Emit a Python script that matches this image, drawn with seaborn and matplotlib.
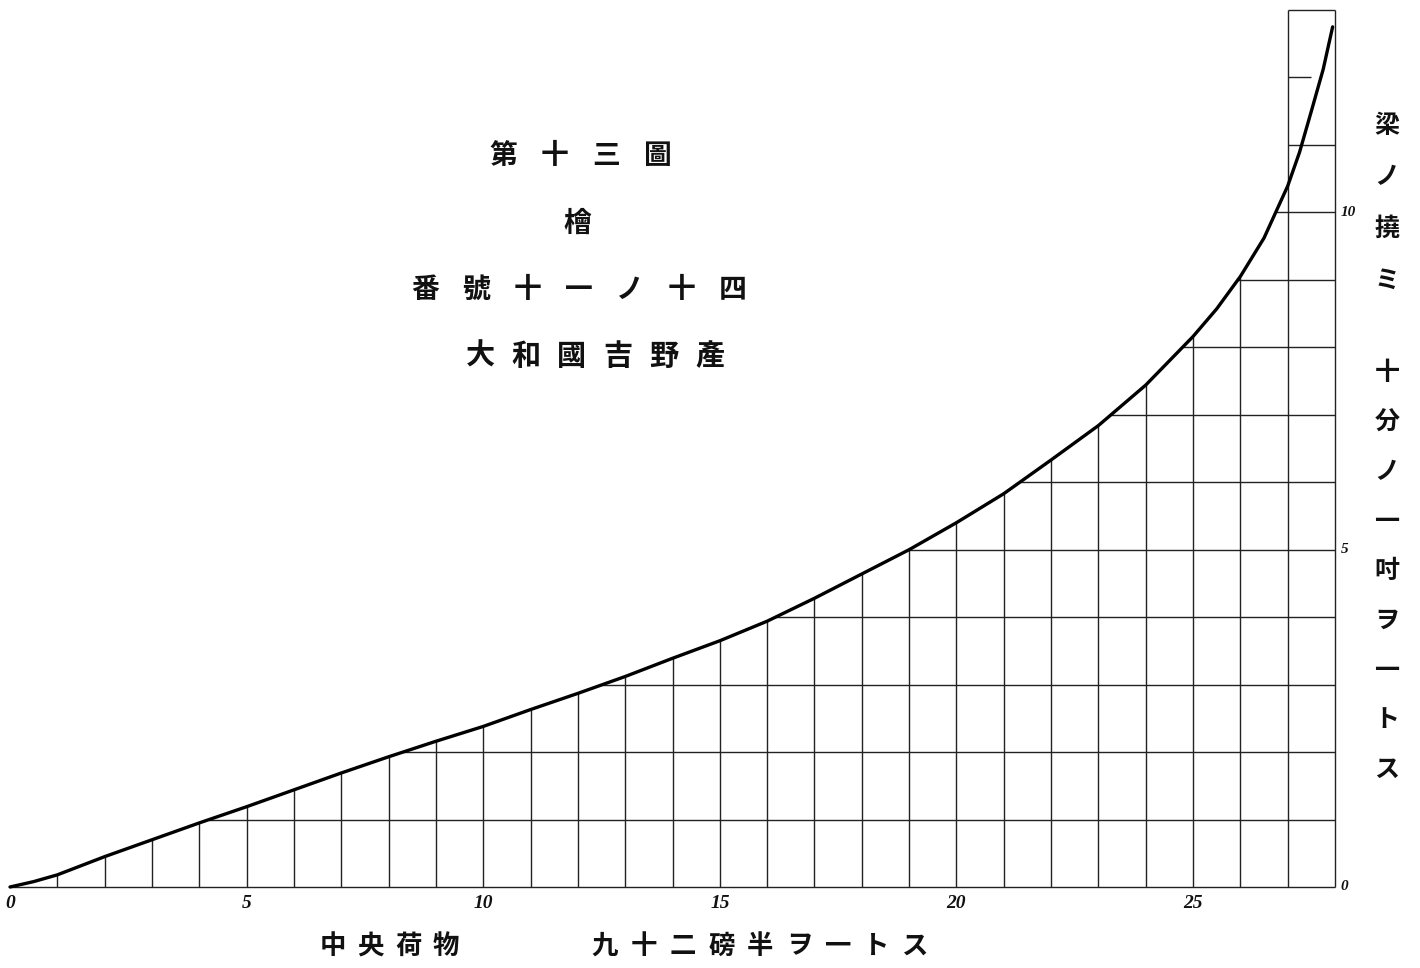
import numpy as np
import pandas as pd
import matplotlib
matplotlib.use('Agg')
import matplotlib.pyplot as plt
import seaborn as sns

# central load (unit = 92.5 lb) vs. deflection of the beam (unit = 1/10 inch)
load = [0, 0.5, 1, 2, 3, 4, 5, 6, 7, 8, 9, 10, 11, 12, 13, 14, 15, 16, 17, 18,
        19, 20, 21, 22, 23, 24, 25, 25.5, 26, 26.5, 27, 27.25, 27.5, 27.75, 27.95]
deflection = [0, 0.08, 0.18, 0.45, 0.70, 0.95, 1.19, 1.44, 1.69, 1.93, 2.16,
              2.38, 2.63, 2.87, 3.12, 3.39, 3.65, 3.94, 4.28, 4.64, 5.00, 5.40,
              5.83, 6.33, 6.84, 7.44, 8.16, 8.57, 9.05, 9.62, 10.39, 10.89,
              11.50, 12.12, 12.75]

x_ticks = [0, 5, 10, 15, 20, 25]
y_ticks = [0, 5, 10]
x_max = 28
y_top = 13

title_lines = ["第十三圖", "檜", "番號十一ノ十四", "大和國吉野產"]
x_caption = ["中央荷物", "九十二磅半ヲ一トス"]
y_caption = ["梁ノ撓ミ", "十分ノ一吋ヲ一トス"]

W, H = 1420, 968
df = pd.DataFrame({"load": load, "deflection": deflection})

sns.set_style("white")
plt.rcParams['font.family'] = ['Noto Sans CJK JP', 'DejaVu Sans']

fig = plt.figure(figsize=(W / 100, H / 100), dpi=100)
ax = fig.add_axes([10 / W, 81 / H, 1325 / W, 877 / H])
ax.set_xlim(0, x_max)
ax.set_ylim(0, y_top)
ax.axis('off')

grid_kw = dict(color='#222222', lw=1.0, clip_on=False)

# vertical rulings: from the base up to the curve
for xi in range(1, x_max - 1):
    ax.vlines(xi, 0, np.interp(xi, df.load, df.deflection), **grid_kw)
# last column is boxed up to the top
ax.vlines([x_max - 1, x_max], 0, y_top, **grid_kw)
ax.hlines(y_top, x_max - 1, x_max, **grid_kw)

# horizontal rulings: from the curve out to the right edge
ax.hlines(0, 0, x_max, **grid_kw)
for yi in range(1, 11):
    ax.hlines(yi, np.interp(yi, df.deflection, df.load), x_max, **grid_kw)
ax.hlines(11, x_max - 1, x_max, **grid_kw)
ax.hlines(12, x_max - 1, np.interp(12, df.deflection, df.load) - 0.2, **grid_kw)

sns.lineplot(data=df, x="load", y="deflection", ax=ax, color='black',
             lw=2.4, clip_on=False, legend=False)

num_kw = dict(family=['Liberation Serif', 'DejaVu Serif'], style='italic',
              weight='bold', color='#111')
for t in x_ticks:
    ax.text(t, -0.24, str(t), ha='center', va='center', fontsize=14, **num_kw)
for t in y_ticks:
    ax.text(x_max + 0.12, t, str(t), ha='left', va='center', fontsize=11, **num_kw)


def place(chars, x0, y0, dx=0.0, dy=0.0, size=20):
    for i, ch in enumerate(chars):
        fig.text((x0 + i * dx) / W, 1 - (y0 + i * dy) / H, ch,
                 ha='center', va='center', fontsize=size, color='#111',
                 weight='bold')


place(title_lines[0], 503, 156, dx=51.5, size=20)
place(title_lines[1], 577, 224, size=20)
place(title_lines[2], 425, 290, dx=51.3, size=20)
place(title_lines[3], 480, 356, dx=46, size=21)

place(x_caption[0], 333, 946, dx=37.5, size=19)
place(x_caption[1], 605, 946, dx=38.8, size=19)

place(y_caption[0], 1387, 126, dy=51.5, size=18)
place(y_caption[1], 1387, 373, dy=49.6, size=18)

fig.savefig("out.png", dpi=100, facecolor='white')
